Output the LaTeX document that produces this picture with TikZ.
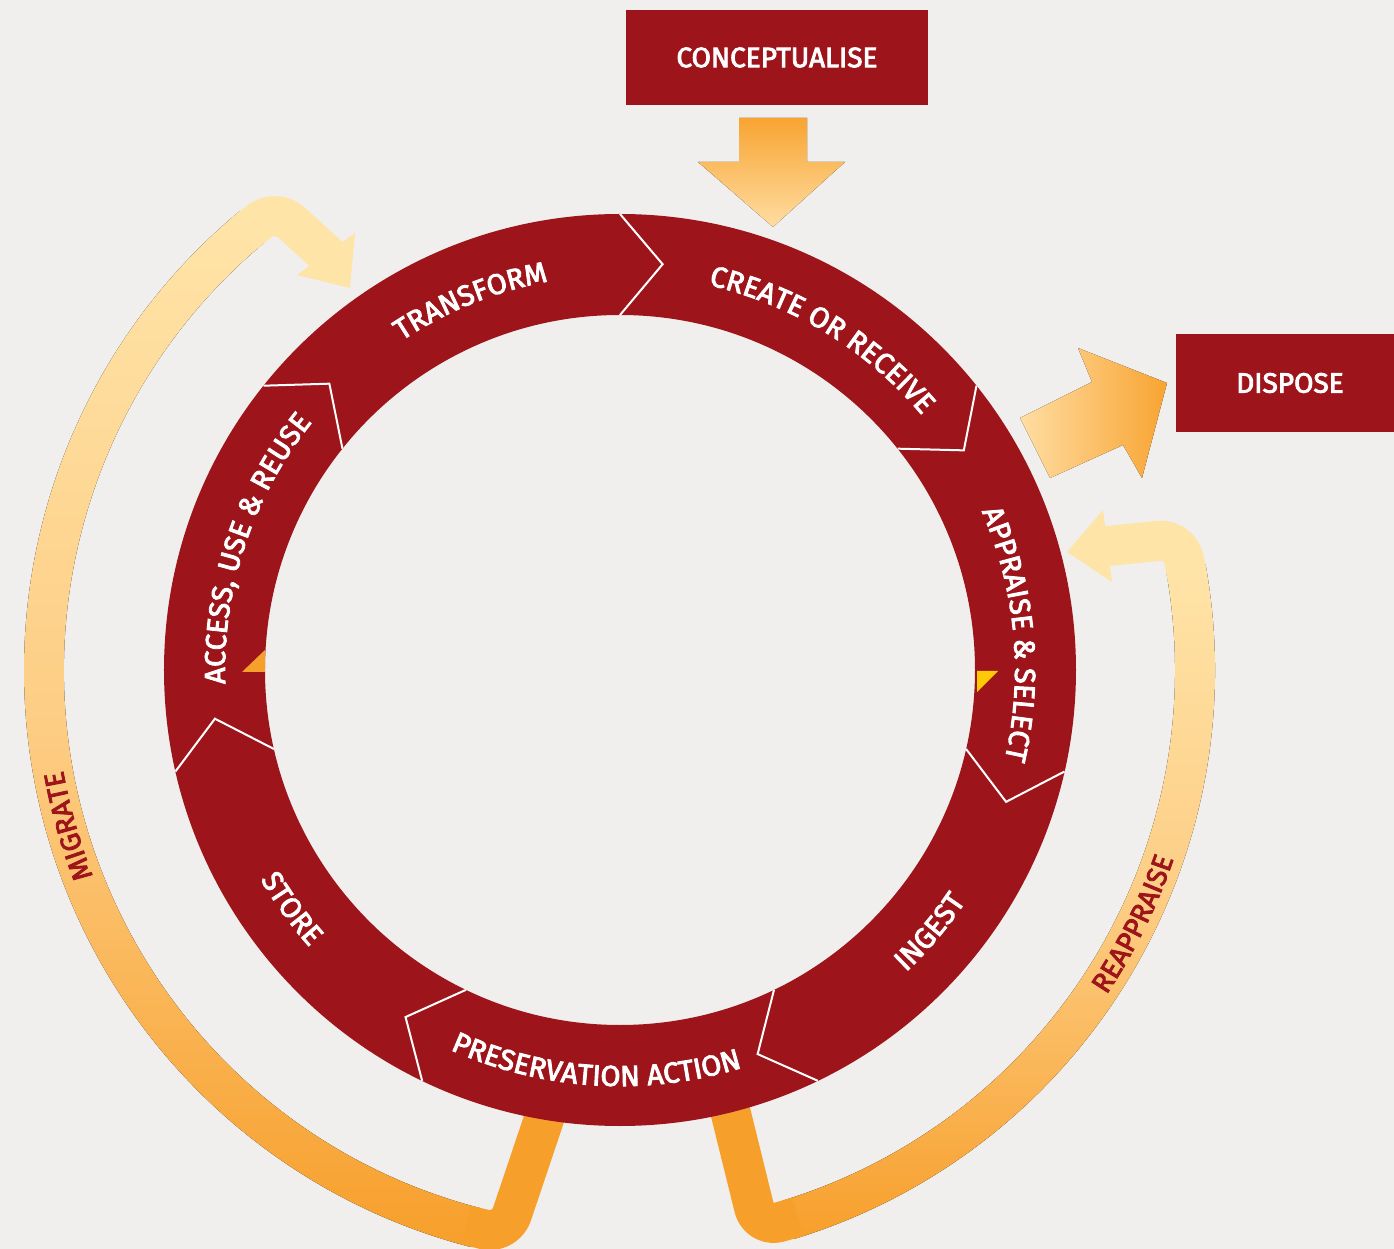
\documentclass[tikz,border=0pt]{standalone}
\usepackage{fontspec}
\newfontfamily\labfont[FakeBold=3]{Fira Sans}
\usetikzlibrary{decorations.text}
\definecolor{bgc}{HTML}{F0EFED}
\definecolor{ringred}{HTML}{9D151B}
\definecolor{orng}{HTML}{F79F2B}
\definecolor{midor}{HTML}{FDCD84}
\definecolor{lite}{HTML}{FFE4A8}
\definecolor{arrtop}{HTML}{F8A432}
\definecolor{arrbot}{HTML}{FFDDA2}
\definecolor{ylw}{HTML}{FFC908}
\newcommand\ringfmt{\labfont\fontsize{29}{31}\selectfont}
\newcommand\bandfmt{\labfont\fontsize{28}{30}\selectfont}
\newcommand\boxfmt{\labfont\fontsize{28}{30}\selectfont}
% #1 centre angle, #2 baseline radius, #3 signed half span (+ = clockwise), #4 colour, #5 text
\newcommand\arclabel[5]{%
  \pgfmathsetmacro\labSA{#1+#3}%
  \pgfmathsetmacro\labEA{#1-#3}%
  \path[decorate,decoration={text along path,text align=center,text color=#4,text={#5}}]
    (\labSA:#2) arc[start angle=\labSA,end angle=\labEA,radius=#2];}
\tikzset{
  lbox/.style={fill=ringred,inner sep=0pt,text=white,font=\boxfmt},
  chev/.style={white,line width=2pt,line join=miter},
  bandstroke/.style={line width=40pt,line join=round,rounded corners=21pt},
  bandshade/.style={bottom color=orng,top color=lite,middle color=midor},
}
\begin{document}
\begin{tikzpicture}[x=1pt,y=1pt]
\useasboundingbox (-620,-579) rectangle (774,670);
\fill[bgc] (-620,-579) rectangle (774,670);
\begin{scope}
\clip (-620,-579) rectangle (774,670);
% MIGRATE band
\fill[bandshade] (-104.5:556) arc[start angle=-104.5,end angle=-230.3,radius=556]
  -- (-230.3:596) arc[start angle=-230.3,end angle=-104.5,radius=596] -- cycle;
\draw[orng,bandstroke] (-73,-440) -- (-101.5:576) -- (-105.5:576);
\draw[lite,bandstroke] (-229.3:576) -- (-233.3:576) -- (-289.6,411.9);
\fill[lite] (-265,437) -- (-270,382) -- (-323,395) -- cycle;
% REAPPRAISE band
\fill[bandshade] (-73:555) arc[start angle=-73,end angle=10.2,radius=555]
  -- (10.2:595) arc[start angle=10.2,end angle=-73,radius=595] -- cycle;
\draw[orng,bandstroke] (110,-440) -- (-76:575) -- (-72:575);
\draw[lite,bandstroke] (9.2:575) -- (13.2:575) -- (483,123.5);
\fill[lite] (483,160) -- (447,118) -- (492,88) -- cycle;
% ring
\fill[ringred,even odd rule] (0,0) circle[radius=456] (0,0) circle[radius=355];
\foreach \a in {90,38.571,-12.857,-64.286,-115.714,-167.143,-218.571}
  \draw[chev] (\a:456) -- (\a-6:408) -- (\a:355);
\fill[orng] (-378,-2) -- (-355,20) -- (-355,-2) -- cycle;
\fill[ylw] (357,-1) -- (378,-1) -- (357,-22) -- cycle;
% ring labels
\arclabel{112}{395}{60}{white}{|\ringfmt|TRANSFORM}
\arclabel{58.6}{395}{60}{white}{|\ringfmt|CREATE OR RECEIVE}
\arclabel{5.3}{395}{60}{white}{|\ringfmt|APPRAISE {\&} SELECT}
\arclabel{161.6}{395}{60}{white}{|\ringfmt|ACCESS, USE {\&} REUSE}
\arclabel{-40.2}{416}{-60}{white}{|\ringfmt|INGEST}
\arclabel{-93.5}{416}{-60}{white}{|\ringfmt|PRESERVATION ACTION}
\arclabel{-144}{416}{-60}{white}{|\ringfmt|STORE}
% band labels
\arclabel{-164.2}{566}{40}{ringred}{|\bandfmt|MIGRATE}
\arclabel{-26.3}{585}{-40}{ringred}{|\bandfmt|REAPPRAISE}
% boxes and block arrows
\node[lbox,minimum width=302pt,minimum height=95pt] (concept) at (157,612.5) {CONCEPTUALISE};
\node[lbox,minimum width=228pt,minimum height=98pt] (dispose) at (670,287) {DISPOSE};
\fill[top color=arrtop,bottom color=arrbot] (119,552) -- (187,552) -- (187,508) -- (225,508)
  -- (153,443) -- (78,508) -- (119,508) -- cycle;
\fill[left color=arrbot,right color=arrtop] (400,252) -- (472,288) -- (458,322) -- (547,287)
  -- (522,192) -- (503,225) -- (430,192) -- cycle;
\end{scope}
\end{tikzpicture}
\end{document}
